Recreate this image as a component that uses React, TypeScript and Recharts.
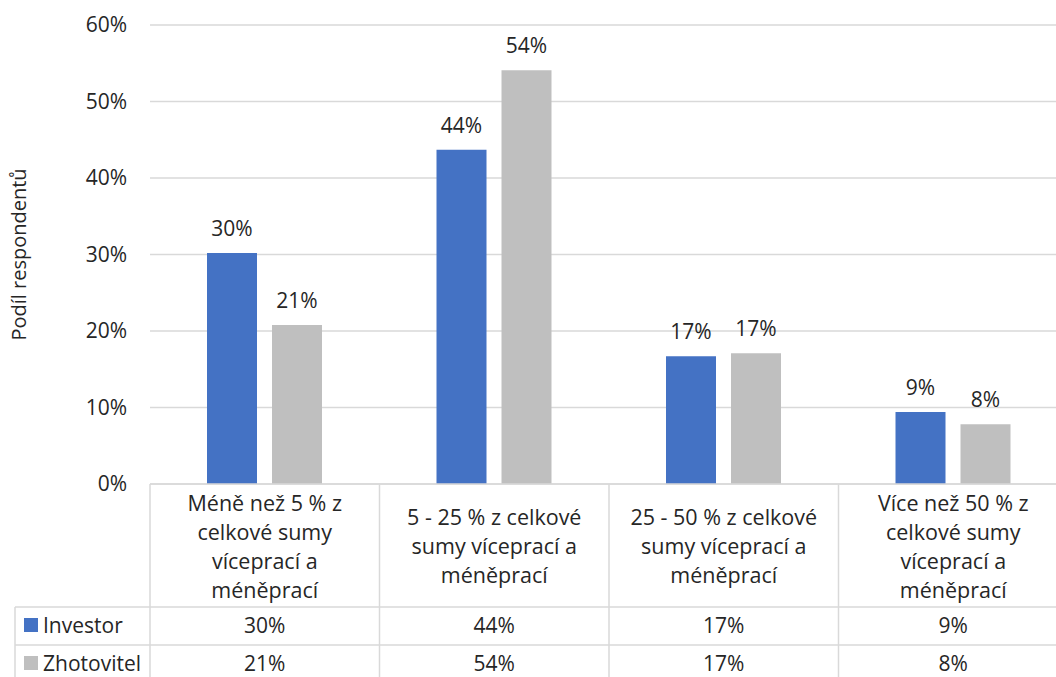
import React from "react";
import { BarChart, Bar, XAxis, YAxis, CartesianGrid, LabelList } from "recharts";

const categoryLines: string[][] = [
  ["Méně než 5 % z", "celkové sumy", "víceprací a", "méněprací"],
  ["5 - 25 % z celkové", "sumy víceprací a", "méněprací"],
  ["25 - 50 % z celkové", "sumy víceprací a", "méněprací"],
  ["Více než 50 % z", "celkové sumy", "víceprací a", "méněprací"],
];
const categories = categoryLines.map((l) => l.join(" "));
const investor = [30.2, 43.7, 16.7, 9.4];
const zhotovitel = [20.8, 54.1, 17.1, 7.8];
const yTicks = [0, 10, 20, 30, 40, 50, 60];
const seriesNames = ["Investor", "Zhotovitel"];

const data = categories.map((c, i) => ({
  name: c,
  idx: i,
  investor: investor[i],
  zhotovitel: zhotovitel[i],
}));

const FONT = "'Open Sans', 'Noto Sans', sans-serif";
const FS = 21;
const HFS = 21.5;
const TEXT = "#262626";
const LINE = "#d9d9d9";
const BLUE = "#4472C4";
const GRAY = "#BFBFBF";

const CHART_W = 1070;
const CHART_H = 677;
const MARGIN = { top: 25, right: 2, bottom: 0, left: 0 };
const YAXIS_W = 150;
const XAXIS_H = 193;
const PLOT_W = CHART_W - MARGIN.left - MARGIN.right - YAXIS_W;
const CAT_W = PLOT_W / categories.length;
const HEADER_H = 123;
const ROW_H = 38;
const TABLE_LEFT = 15;
const LINE_H = 29;

const fmt = (v: number) => `${Math.round(v)}%`;

const XTick = (props: any) => {
  const { x, y, payload } = props;
  const i = payload.index ?? 0;
  const lines = categoryLines[i];
  const left = x - CAT_W / 2;
  const right = x + CAT_W / 2;
  const hdrMid = y + HEADER_H / 2;
  const row1 = y + HEADER_H;
  const row2 = row1 + ROW_H;
  const bottom = CHART_H;
  const series = [investor, zhotovitel];
  const colors = [BLUE, GRAY];
  return (
    <g>
      <line x1={left} x2={left} y1={y} y2={bottom} stroke={LINE} strokeWidth={1.5} />
      {i === categories.length - 1 && (
        <line x1={right} x2={right} y1={y} y2={bottom} stroke={LINE} strokeWidth={1.5} />
      )}
      <line x1={left} x2={right} y1={row1} y2={row1} stroke={LINE} strokeWidth={1.5} />
      <line x1={left} x2={right} y1={row2} y2={row2} stroke={LINE} strokeWidth={1.5} />
      {lines.map((t, k) => (
        <text
          key={k}
          x={x}
          y={hdrMid + (k - (lines.length - 1) / 2) * LINE_H}
          textAnchor="middle"
          dominantBaseline="central"
          fontFamily={FONT}
          fontSize={HFS}
          fill={TEXT}
        >
          {t}
        </text>
      ))}
      {series.map((s, k) => (
        <text
          key={"v" + k}
          x={x}
          y={row1 + ROW_H / 2 + k * ROW_H - 1}
          textAnchor="middle"
          dominantBaseline="central"
          fontFamily={FONT}
          fontSize={FS}
          fill={TEXT}
        >
          {fmt(s[i])}
        </text>
      ))}
      {i === 0 && (
        <g>
          <line x1={TABLE_LEFT} x2={left} y1={row1} y2={row1} stroke={LINE} strokeWidth={1.5} />
          <line x1={TABLE_LEFT} x2={left} y1={row2} y2={row2} stroke={LINE} strokeWidth={1.5} />
          <line x1={TABLE_LEFT} x2={TABLE_LEFT} y1={row1} y2={bottom} stroke={LINE} strokeWidth={1.5} />
          {seriesNames.map((n, k) => (
            <g key={"l" + k}>
              <rect
                x={TABLE_LEFT + 9}
                y={row1 + ROW_H / 2 + k * ROW_H - 8}
                width={14}
                height={14}
                fill={colors[k]}
              />
              <text
                x={TABLE_LEFT + 28}
                y={row1 + ROW_H / 2 + k * ROW_H - 1}
                dominantBaseline="central"
                fontFamily={FONT}
                fontSize={FS}
                fill={TEXT}
              >
                {n}
              </text>
            </g>
          ))}
        </g>
      )}
    </g>
  );
};

const YLabel = (props: any) => {
  const { viewBox } = props;
  const cy = viewBox.y + viewBox.height / 2;
  const cx = 18;
  return (
    <text
      x={cx}
      y={cy}
      transform={`rotate(-90, ${cx}, ${cy})`}
      textAnchor="middle"
      dominantBaseline="central"
      fontFamily={FONT}
      fontSize={20}
      fill={TEXT}
    >
      Podíl respondentů
    </text>
  );
};

export default function App() {
  return (
    <div
      style={{
        position: "absolute",
        left: 0,
        top: 0,
        width: 1056,
        height: 677,
        overflow: "hidden",
        background: "#fff",
      }}
    >
      <BarChart
        width={CHART_W}
        height={CHART_H}
        data={data}
        margin={MARGIN}
        barCategoryGap={57}
        barGap={15}
      >
        <CartesianGrid vertical={false} stroke={LINE} strokeWidth={1.5} />
        <XAxis
          dataKey="name"
          height={XAXIS_H}
          tickSize={0}
          tickMargin={0}
          axisLine={{ stroke: LINE, strokeWidth: 1.5 }}
          tickLine={false}
          interval={0}
          tick={<XTick />}
        />
        <YAxis
          width={YAXIS_W}
          domain={[0, 60]}
          ticks={yTicks}
          tickFormatter={(v: number) => `${v}%`}
          axisLine={false}
          tickLine={false}
          tickSize={0}
          tickMargin={23}
          tick={{ fontFamily: FONT, fontSize: FS, fill: TEXT }}
          label={<YLabel />}
        />
        <Bar dataKey="investor" fill={BLUE} isAnimationActive={false}>
          <LabelList
            dataKey="investor"
            position="top"
            offset={17}
            formatter={(v: number) => fmt(v)}
            style={{ fontFamily: FONT, fontSize: FS, fill: TEXT }}
          />
        </Bar>
        <Bar dataKey="zhotovitel" fill={GRAY} isAnimationActive={false}>
          <LabelList
            dataKey="zhotovitel"
            position="top"
            offset={17}
            formatter={(v: number) => fmt(v)}
            style={{ fontFamily: FONT, fontSize: FS, fill: TEXT }}
          />
        </Bar>
      </BarChart>
    </div>
  );
}
